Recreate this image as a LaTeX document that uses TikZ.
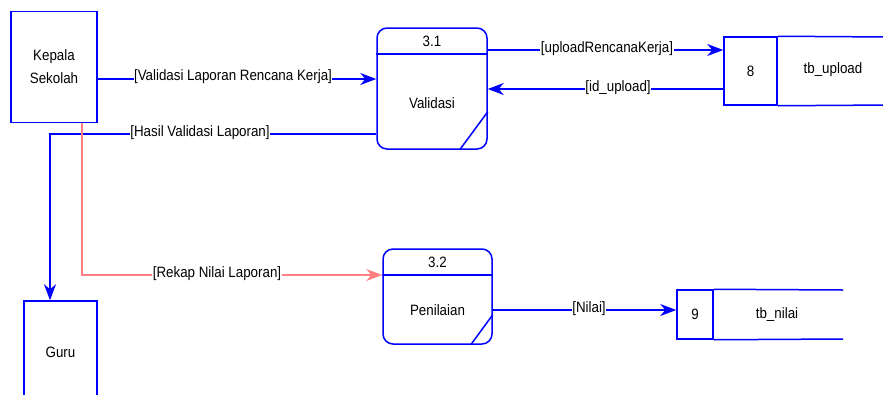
\documentclass[tikz,border=0pt]{standalone}
\usepackage{fontspec}
\setmainfont{Liberation Sans}[FakeStretch=0.89]
\usetikzlibrary{arrows.meta,calc}
\definecolor{dfdblue}{RGB}{0,0,255}
\definecolor{dfdred}{RGB}{255,128,128}
\newcommand{\fsz}{\fontsize{15}{18}\selectfont}
\tikzset{
  blueline/.style={draw=dfdblue, line width=1.5pt},
  flow/.style={draw=dfdblue, line width=1.5pt, -{Stealth[length=16pt,width=12pt,inset=5pt]}},
  redflow/.style={draw=dfdred, line width=1.2pt, -{Stealth[length=16pt,width=12pt,inset=5pt]}},
  ent/.style={draw=dfdblue, line width=1.5pt, fill=white, align=center, inner sep=0pt, font=\fsz},
  proc/.style={draw=dfdblue, line width=1.5pt, fill=white, rounded corners=10pt, inner sep=0pt},
  cell/.style={draw=dfdblue, line width=1.5pt, inner sep=0pt, font=\fsz},
  lbl/.style={fill=white, inner sep=0.5pt, font=\fsz},
  txt/.style={inner sep=0pt, font=\fsz},
}
\begin{document}
\begin{tikzpicture}[x=1pt,y=-1pt]
\useasboundingbox (0,0) rectangle (883,394);
\clip (0,0) rectangle (883,394);
\fill[white] (0,0) rectangle (883,394);

% external entities
\node[ent, minimum width=86pt, minimum height=111pt] (k) at (54,67) {Kepala\\[5pt]Sekolah};
\node[ent, minimum width=73pt, minimum height=102pt] (guru) at (60.5,352) {Guru};

% processes
\node[proc, minimum width=110pt, minimum height=121pt] (p1) at (432,88.5) {};
\draw[blueline] (p1.west |- 0,54) -- (p1.east |- 0,54);
\node[txt] (p1n) at (432,41) {3.1};
\node[txt] (p1t) at (432,103) {Validasi};
\draw[blueline] ($(p1.south east)+(-28,0)$) -- ($(p1.south east)+(0,-38)$);

\node[proc, minimum width=109pt, minimum height=95pt] (p2) at (437.5,296.5) {};
\draw[blueline] (p2.west |- 0,275) -- (p2.east |- 0,275);
\node[txt] (p2n) at (437.5,262) {3.2};
\node[txt] (p2t) at (437.5,310) {Penilaian};
\draw[blueline] ($(p2.south east)+(-22,0)$) -- ($(p2.south east)+(0,-30)$);

% data stores
\node[cell, minimum width=53pt, minimum height=68pt] (tbu) at (750.5,71) {8};
\node[txt] (tbun) at (833,70) {tb\_upload};
\draw[blueline] (tbu.north east) -- (890,37);
\draw[blueline] (tbu.south east) -- (890,105);

\node[cell, minimum width=36pt, minimum height=49pt] (tbn) at (695,314.5) {9};
\node[txt] (tbnn) at (777,315) {tb\_nilai};
\draw[blueline] (tbn.north east) -- (843,290);
\draw[blueline] (tbn.south east) -- (843,339);

% flows
\draw[flow] (k.east |- 0,79) -- (p1.west |- 0,79);
\node[lbl] (l1) at (233,77) {[Validasi Laporan Rencana Kerja]};

\draw[flow] (p1.west |- 0,134) -| ($(guru.north)+(-10.5,0)$);
\node[lbl] (l2) at (200,133) {[Hasil Validasi Laporan]};

\draw[redflow] ($(k.south)+(28,0)$) |- (p2.west |- 0,275);
\node[lbl] (l3) at (217,274) {[Rekap Nilai Laporan]};

\draw[flow] (p1.east |- 0,50) -- (tbu.west |- 0,50);
\node[lbl] (l4) at (607,49) {[uploadRencanaKerja]};

\draw[flow] (tbu.west |- 0,89) -- (p1.east |- 0,89);
\node[lbl] (l5) at (618,88) {[id\_upload]};

\draw[flow] (p2.east |- 0,310) -- (tbn.west |- 0,310);
\node[lbl] (l6) at (589,309) {[Nilai]};
\end{tikzpicture}
\end{document}
